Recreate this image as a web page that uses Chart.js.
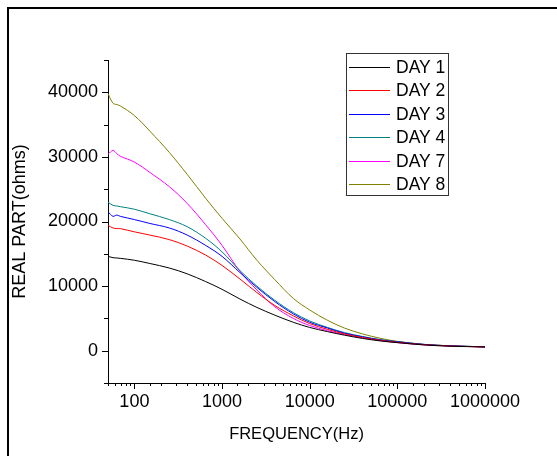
<!DOCTYPE html>
<html>
<head>
<meta charset="utf-8">
<title>Real part vs frequency</title>
<script src="https://cdn.jsdelivr.net/npm/chart.js@4.4.1/dist/chart.umd.min.js"></script>
<style>
  html, body { margin: 0; padding: 0; background: #fff; overflow: hidden; }
  #wrap { position: relative; width: 557px; height: 456px; overflow: hidden; }
  #frame { position: absolute; left: 7px; top: 7px; width: 600px; height: 500px; border: 2px solid #000; }
  canvas { position: absolute; left: 0; top: 0; }
</style>
</head>
<body>
<div id="wrap">
  <div id="frame"></div>
  <canvas id="realPart" width="557" height="456"></canvas>
</div>
<script>
// frequency sweep (Hz) shared by every day
const FREQ = [50, 57, 63, 69, 100, 150, 250, 400, 650, 1000, 1600, 2500, 4000, 6500,
  10000, 16000, 25000, 40000, 65000, 100000, 200000, 400000, 1000000];

// real part of impedance (ohms)
const DAY1 = [14600, 14400, 14350, 14300, 14000, 13500, 12800, 11900, 10700, 9500, 8000, 6700,
  5500, 4400, 3600, 2950, 2400, 1900, 1500, 1250, 900, 700, 580];
const DAY2 = [19400, 19000, 18900, 18900, 18400, 17900, 17200, 16200, 14800, 13200, 11100, 9000,
  7000, 5400, 4200, 3300, 2600, 2050, 1600, 1300, 940, 730, 590];
const DAY3 = [21500, 20800, 21000, 20800, 20300, 19700, 19000, 17900, 16300, 14600, 12100, 9800,
  7600, 5700, 4400, 3500, 2700, 2150, 1650, 1380, 970, 750, 600];
const DAY4 = [23000, 22500, 22400, 22300, 21900, 21200, 20300, 19200, 17400, 15300, 12400, 10000,
  7800, 5900, 4600, 3600, 2800, 2200, 1700, 1400, 980, 760, 600];
const DAY7 = [30400, 31000, 30500, 30100, 29200, 27600, 25400, 22800, 19500, 16300, 12300, 9400,
  6800, 5000, 3900, 3100, 2500, 2000, 1550, 1250, 900, 720, 580];
const DAY8 = [39800, 38300, 38100, 37900, 36400, 34000, 30700, 27300, 23600, 20500, 17300, 14000,
  11000, 8100, 6300, 4700, 3500, 2600, 1900, 1450, 980, 760, 600];

const SERIES = ['DAY 1', 'DAY 2', 'DAY 3', 'DAY 4', 'DAY 7', 'DAY 8'];
const VALUES = [DAY1, DAY2, DAY3, DAY4, DAY7, DAY8];
const COLORS = ['#000000', '#ff0000', '#0000ff', '#008080', '#ff00ff', '#808000'];

// labelled (major) ticks
const X_TICKS = [100, 1000, 10000, 100000, 1000000];
const Y_TICKS = [0, 10000, 20000, 30000, 40000];

const FONT = 'Liberation Sans, Arial, sans-serif';

const isMajor = (list, v) => list.some(t => Math.abs(t - v) <= Math.abs(t) * 1e-6 + 1e-9);

// Origin-style tick marks: long for labelled ticks, short for the rest
const axisTicks = {
  id: 'axisTicks',
  afterDraw(chart) {
    const { ctx } = chart;
    const xs = chart.scales.x;
    const ys = chart.scales.y;
    ctx.save();
    ctx.strokeStyle = '#000';
    ctx.lineWidth = 1;
    xs.ticks.forEach(t => {
      const px = Math.round(xs.getPixelForValue(t.value)) + 0.5;
      const len = isMajor(X_TICKS, t.value) ? 6 : 3;
      ctx.beginPath();
      ctx.moveTo(px, xs.top);
      ctx.lineTo(px, xs.top + len);
      ctx.stroke();
    });
    ys.ticks.forEach(t => {
      const py = Math.round(ys.getPixelForValue(t.value)) + 0.5;
      const len = isMajor(Y_TICKS, t.value) ? 6 : 4;
      ctx.beginPath();
      ctx.moveTo(ys.right, py);
      ctx.lineTo(ys.right - len, py);
      ctx.stroke();
    });
    ctx.restore();
  }
};

// boxed legend in the upper right of the plot
const boxLegend = {
  id: 'boxLegend',
  afterDraw(chart) {
    const { ctx } = chart;
    const left = 346, top = 53, width = 102, height = 142;
    ctx.save();
    ctx.fillStyle = '#fff';
    ctx.fillRect(left, top, width, height);
    ctx.strokeStyle = '#333';
    ctx.lineWidth = 1;
    ctx.strokeRect(left + 0.5, top + 0.5, width, height);
    ctx.font = '17.5px ' + FONT;
    ctx.textBaseline = 'middle';
    ctx.textAlign = 'left';
    chart.data.datasets.forEach((ds, i) => {
      const y = Math.round(top + 13.7 + i * 23.47) + 0.5;
      ctx.strokeStyle = ds.borderColor;
      ctx.beginPath();
      ctx.moveTo(left + 3, y);
      ctx.lineTo(left + 44, y);
      ctx.stroke();
      ctx.fillStyle = '#000';
      ctx.fillText(ds.label, left + 50, y + 1);
    });
    ctx.restore();
  }
};

new Chart(document.getElementById('realPart'), {
  type: 'line',
  data: {
    datasets: SERIES.map((name, i) => ({
      label: name,
      data: FREQ.map((f, j) => ({ x: f, y: VALUES[i][j] })),
      borderColor: COLORS[i],
      borderWidth: 1,
      pointRadius: 0,
      fill: false,
      tension: 0.35
    }))
  },
  options: {
    responsive: false,
    animation: false,
    layout: { padding: { left: 0, top: 60, right: 72, bottom: 0 } },
    plugins: {
      legend: { display: false },
      tooltip: { enabled: false }
    },
    scales: {
      x: {
        type: 'logarithmic',
        min: 50,
        max: 1000000,
        grid: { display: true, drawOnChartArea: false, tickLength: 6, tickColor: 'rgba(0,0,0,0)' },
        border: { display: true, color: '#000', width: 1 },
        ticks: {
          autoSkip: false,
          maxRotation: 0,
          padding: 2,
          color: '#000',
          font: { family: FONT, size: 18 },
          callback: v => (isMajor(X_TICKS, v) ? String(Math.round(v)) : '')
        },
        title: {
          display: true,
          text: 'FREQUENCY(Hz)',
          color: '#000',
          font: { family: FONT, size: 16.5 },
          padding: { top: 0, bottom: 12 }
        },
        afterFit(scale) { scale.height = 73; }
      },
      y: {
        min: -5000,
        max: 45000,
        grid: { display: true, drawOnChartArea: false, tickLength: 6, tickColor: 'rgba(0,0,0,0)' },
        border: { display: true, color: '#000', width: 1 },
        ticks: {
          stepSize: 5000,
          autoSkip: false,
          padding: 4,
          color: '#000',
          font: { family: FONT, size: 18 },
          callback: v => (isMajor(Y_TICKS, v) ? String(v) : '')
        },
        title: {
          display: true,
          text: 'REAL PART(ohms)',
          color: '#000',
          font: { family: FONT, size: 18 },
          padding: { top: 9, bottom: 0 }
        },
        afterFit(scale) { scale.width = 108; }
      }
    }
  },
  plugins: [axisTicks, boxLegend]
});
</script>
</body>
</html>
